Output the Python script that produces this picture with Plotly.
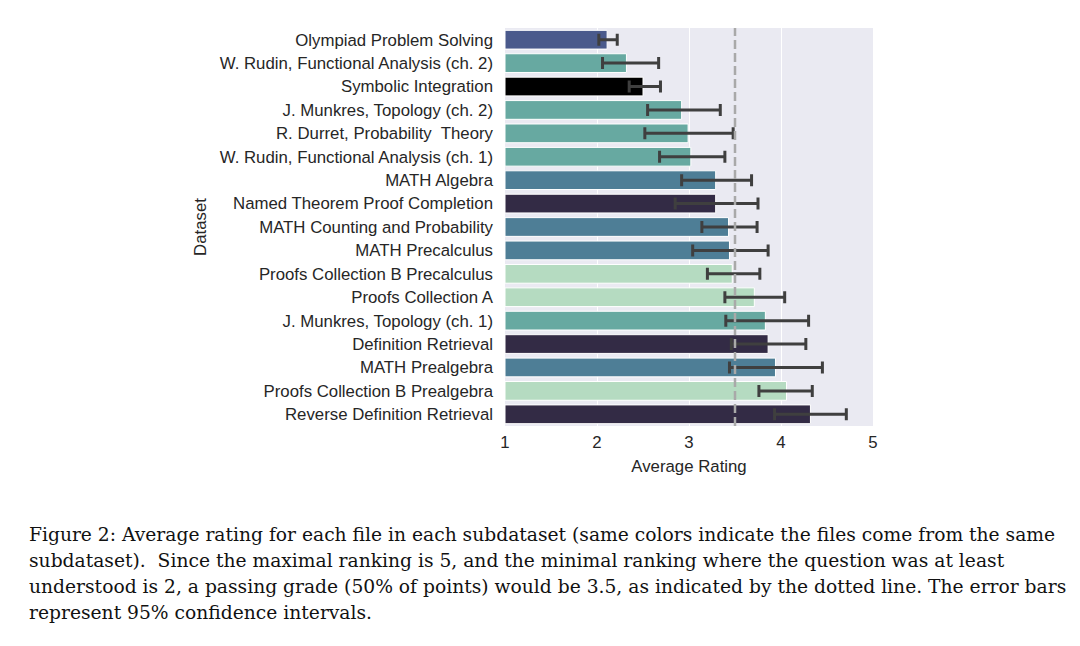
import plotly.graph_objects as go

datasets = [
    "Olympiad Problem Solving",
    "W. Rudin, Functional Analysis (ch. 2)",
    "Symbolic Integration",
    "J. Munkres, Topology (ch. 2)",
    "R. Durret, Probability  Theory",
    "W. Rudin, Functional Analysis (ch. 1)",
    "MATH Algebra",
    "Named Theorem Proof Completion",
    "MATH Counting and Probability",
    "MATH Precalculus",
    "Proofs Collection B Precalculus",
    "Proofs Collection A",
    "J. Munkres, Topology (ch. 1)",
    "Definition Retrieval",
    "MATH Prealgebra",
    "Proofs Collection B Prealgebra",
    "Reverse Definition Retrieval",
]
mean_rating = [2.11, 2.32, 2.50, 2.92, 2.99, 3.02, 3.29, 3.29, 3.43, 3.44,
               3.47, 3.71, 3.83, 3.86, 3.94, 4.06, 4.32]
ci_low = [2.02, 2.06, 2.35, 2.55, 2.52, 2.68, 2.92, 2.85, 3.14, 3.04,
          3.20, 3.39, 3.40, 3.46, 3.44, 3.76, 3.93]
ci_high = [2.22, 2.67, 2.69, 3.34, 3.48, 3.39, 3.68, 3.75, 3.74, 3.86,
           3.77, 4.04, 4.30, 4.27, 4.45, 4.34, 4.71]
subdataset = ["olympiad", "books", "symbolic", "books", "books", "books", "math",
              "nlp", "math", "math", "proofs", "proofs", "books", "nlp", "math",
              "proofs", "nlp"]
palette = {
    "olympiad": "#4a5a8c",
    "books": "#67a9a1",
    "symbolic": "#000000",
    "math": "#4e7e96",
    "nlp": "#332b45",
    "proofs": "#b5dbc1",
}
x_ticks = [1, 2, 3, 4, 5]
passing_grade = 3.5
caption_lines = [
    "Figure 2: Average rating for each file in each subdataset (same colors indicate the files come from the same",
    "subdataset).  Since the maximal ranking is 5, and the minimal ranking where the question was at least",
    "understood is 2, a passing grade (50% of points) would be 3.5, as indicated by the dotted line. The error bars",
    "represent 95% confidence intervals.",
]

err_plus = [h - m for h, m in zip(ci_high, mean_rating)]
err_minus = [m - l for m, l in zip(mean_rating, ci_low)]

fig = go.Figure()
fig.add_trace(go.Bar(
    y=datasets,
    x=[m - 1 for m in mean_rating],
    base=1,
    orientation="h",
    width=0.8,
    marker=dict(color=[palette[s] for s in subdataset], line=dict(color="white", width=1)),
    error_x=dict(type="data", symmetric=False, array=err_plus, arrayminus=err_minus,
                 color="#3f3f3f", thickness=3, width=6),
    showlegend=False,
))

fig.add_shape(type="line", xref="x", yref="paper", x0=passing_grade, x1=passing_grade,
              y0=0, y1=1, line=dict(color="#a9a9a9", width=2.5, dash="9px,4px"))

font_sans = "Liberation Sans, Arial, sans-serif"
L, T, PW, PH = 497, 20, 368, 398
fig.update_layout(
    width=1080, height=646,
    margin=dict(l=L, r=1080 - L - PW, t=T, b=646 - T - PH),
    paper_bgcolor="white",
    plot_bgcolor="#eaeaf2",
    font=dict(family=font_sans, size=16.8, color="#262626"),
    xaxis=dict(range=[1, 5], tickvals=x_ticks, showgrid=True, gridcolor="white",
               gridwidth=1.3, zeroline=False, showline=False, ticks="",
               ticklabelstandoff=4,
               title=dict(text="Average Rating", standoff=9, font=dict(size=16.8)),
               tickfont=dict(size=16.8)),
    yaxis=dict(categoryorder="array", categoryarray=datasets, autorange="reversed",
               showgrid=False, zeroline=False, ticks="", ticklabelstandoff=11,
               title=dict(text="Dataset", standoff=8, font=dict(size=16.8)),
               tickfont=dict(size=16.8)),
    bargap=0.2,
)

for i, line in enumerate(caption_lines):
    fig.add_annotation(text=line, xref="paper", yref="paper", x=0, y=0,
                       xanchor="left", yanchor="middle",
                       xshift=19 - L, yshift=-(526 + 26 * i - (T + PH)),
                       showarrow=False, align="left",
                       font=dict(family="DejaVu Serif, Liberation Serif, serif", size=18.7, color="#111111"))

fig.write_html("out.html")
